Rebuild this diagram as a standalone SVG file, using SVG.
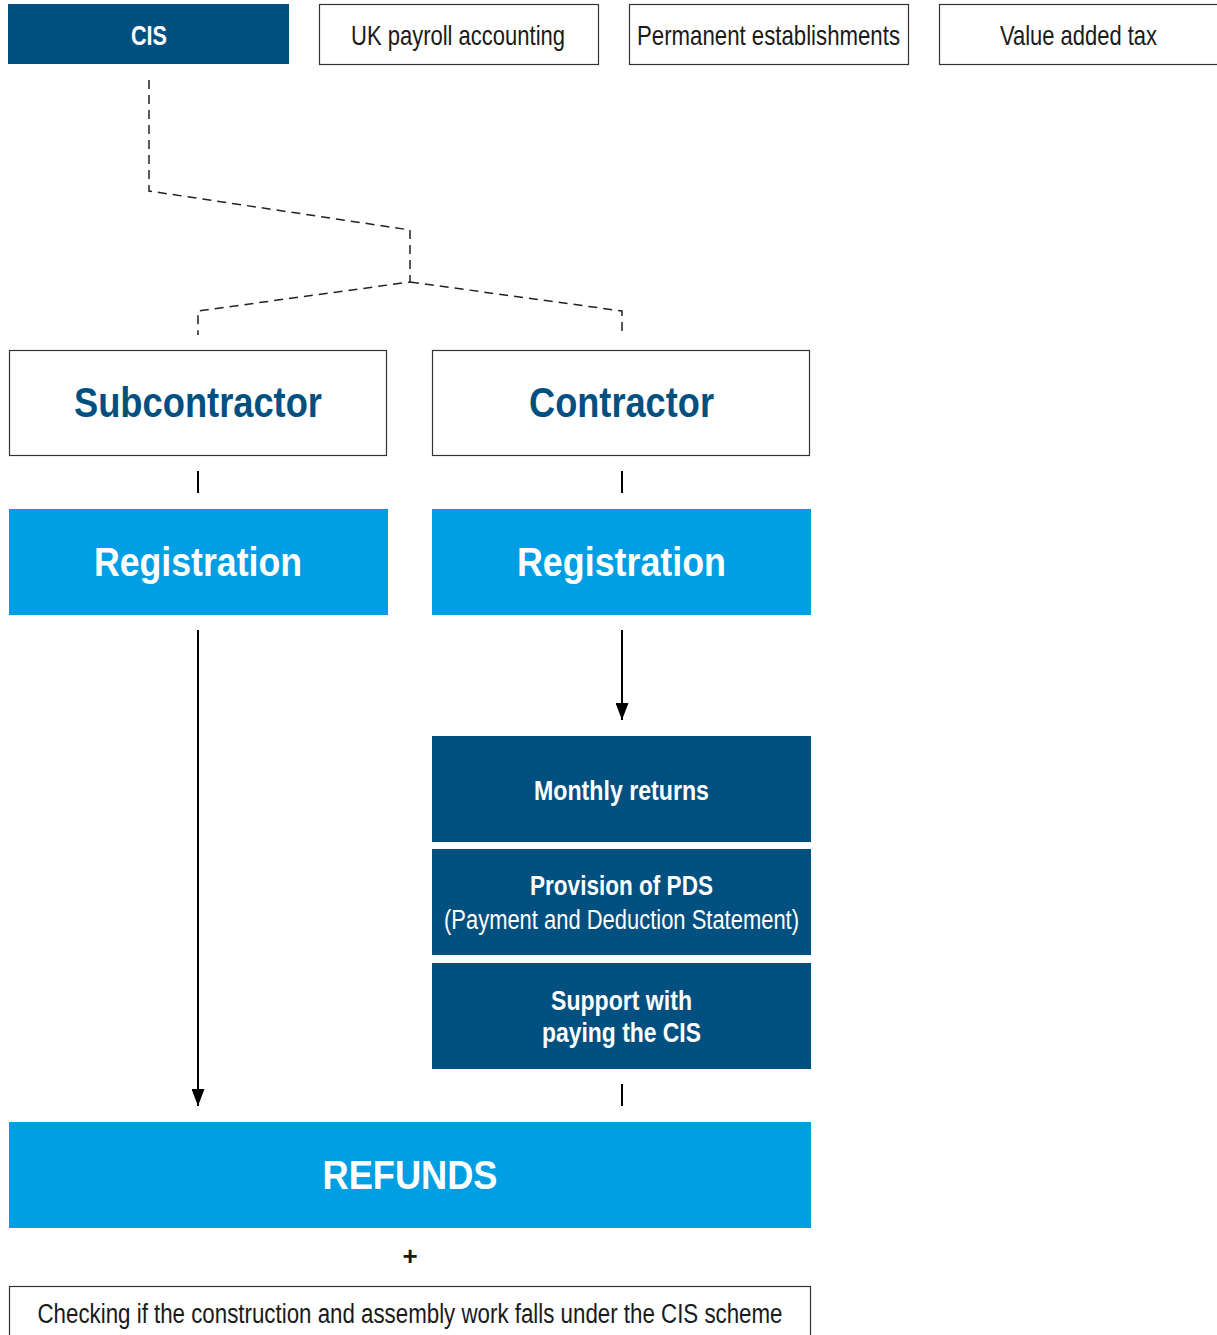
<svg xmlns="http://www.w3.org/2000/svg" width="1217" height="1335" viewBox="0 0 1217 1335">
<style>
text{font-family:"Liberation Sans Narrow","Liberation Sans",Arial,sans-serif;text-anchor:middle}
.dark{fill:#02507F}
.light{fill:#009FE3}
.outline{fill:#fff;stroke:#333;stroke-width:1.2}
.b{font-weight:bold}
.w{fill:#fff}
.k{fill:#1a1a1a}
.conn{stroke:#000;stroke-width:2;fill:none}
.dash{stroke:#222;stroke-width:1.5;fill:none;stroke-dasharray:9 6}
</style>
<defs>
<marker id="ah" viewBox="0 0 10 10" refX="10" refY="5" markerWidth="6" markerHeight="8" markerUnits="userSpaceOnUse" orient="auto" preserveAspectRatio="none">
<path d="M0,0 L10,5 L0,10 Z" fill="#000"/>
</marker>
<marker id="ah2" viewBox="0 0 10 10" refX="10" refY="5" markerWidth="17" markerHeight="13" markerUnits="userSpaceOnUse" orient="auto" preserveAspectRatio="none">
<path d="M0,0 L10,5 L0,10 Z" fill="#000"/>
</marker>
</defs>

<g id="tab-cis"><rect class="dark" x="8" y="4" width="281" height="60"/><text class="b w" x="149" y="45" font-size="28" textLength="36" lengthAdjust="spacingAndGlyphs">CIS</text></g>
<g id="tab-payroll"><rect class="outline" x="319.5" y="4.5" width="279" height="60"/><text class="k" x="458" y="45" font-size="28" textLength="214" lengthAdjust="spacingAndGlyphs">UK payroll accounting</text></g>
<g id="tab-pe"><rect class="outline" x="629.5" y="4.5" width="279" height="60"/><text class="k" x="768.5" y="45" font-size="28" textLength="263" lengthAdjust="spacingAndGlyphs">Permanent establishments</text></g>
<g id="tab-vat"><rect class="outline" x="939.5" y="4.5" width="290" height="60"/><text class="k" x="1078.5" y="45" font-size="28" textLength="157" lengthAdjust="spacingAndGlyphs">Value added tax</text></g>

<g id="connectors">
<path class="dash" d="M149,80 V191 L410,230 V282 L198,311 V335"/>
<path class="dash" d="M410,282 L622,311 V335"/>
<line class="conn" x1="198" y1="471" x2="198" y2="493"/>
<line class="conn" x1="622" y1="471" x2="622" y2="493"/>
<line class="conn" x1="198" y1="630" x2="198" y2="1106" marker-end="url(#ah2)"/>
<line class="conn" x1="622" y1="630" x2="622" y2="720" marker-end="url(#ah2)"/>
<line class="conn" x1="622" y1="1084" x2="622" y2="1106"/>
</g>

<g id="subcontractor"><rect class="outline" x="9.5" y="350.5" width="377" height="105"/><text class="b" fill="#02507F" x="198" y="417" font-size="42" textLength="248" lengthAdjust="spacingAndGlyphs">Subcontractor</text></g>
<g id="contractor"><rect class="outline" x="432.5" y="350.5" width="377" height="105"/><text class="b" fill="#02507F" x="621.5" y="417" font-size="42" textLength="185" lengthAdjust="spacingAndGlyphs">Contractor</text></g>

<g id="registration-sub"><rect class="light" x="9" y="509" width="379" height="106"/><text class="b w" x="198" y="576" font-size="40" textLength="208" lengthAdjust="spacingAndGlyphs">Registration</text></g>
<g id="registration-con"><rect class="light" x="432" y="509" width="379" height="106"/><text class="b w" x="621.5" y="576" font-size="40" textLength="209" lengthAdjust="spacingAndGlyphs">Registration</text></g>

<g id="monthly-returns"><rect class="dark" x="432" y="736" width="379" height="106"/><text class="b w" x="621.5" y="800" font-size="27" textLength="175" lengthAdjust="spacingAndGlyphs">Monthly returns</text></g>
<g id="provision-pds"><rect class="dark" x="432" y="849" width="379" height="106"/><text class="b w" x="621.5" y="895" font-size="27" textLength="183" lengthAdjust="spacingAndGlyphs">Provision of PDS</text><text class="w" x="621.5" y="929" font-size="27" textLength="355" lengthAdjust="spacingAndGlyphs">(Payment and Deduction Statement)</text></g>
<g id="support-cis"><rect class="dark" x="432" y="963" width="379" height="106"/><text class="b w" x="621.5" y="1010" font-size="27" textLength="141" lengthAdjust="spacingAndGlyphs">Support with</text><text class="b w" x="621.5" y="1042" font-size="27" textLength="159" lengthAdjust="spacingAndGlyphs">paying the CIS</text></g>

<g id="refunds"><rect class="light" x="9" y="1122" width="802" height="106"/><text class="b w" x="410" y="1189" font-size="40" textLength="175" lengthAdjust="spacingAndGlyphs">REFUNDS</text></g>
<g id="plus"><text class="b k" x="410" y="1265" font-size="26">+</text></g>
<g id="checking"><rect class="outline" x="9.5" y="1286.5" width="801" height="60"/><text class="k" x="410" y="1323" font-size="27" textLength="745" lengthAdjust="spacingAndGlyphs">Checking if the construction and assembly work falls under the CIS scheme</text></g>
</svg>
